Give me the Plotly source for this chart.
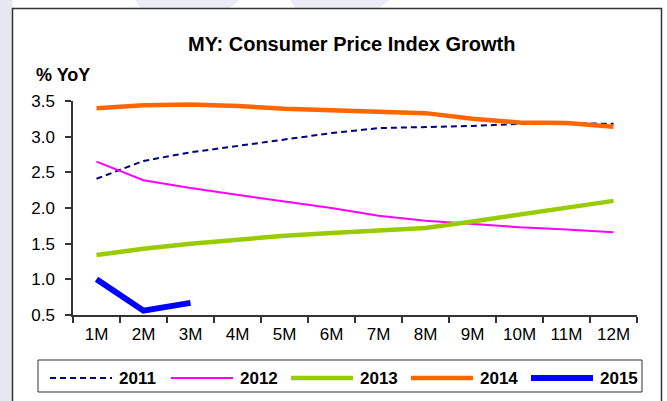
import plotly.graph_objects as go

# Monthly CPI growth, % YoY
months = ["1M", "2M", "3M", "4M", "5M", "6M", "7M", "8M", "9M", "10M", "11M", "12M"]
years = ["2011", "2012", "2013", "2014", "2015"]
cpi_2011 = [2.41, 2.66, 2.78, 2.87, 2.95, 3.05, 3.12, 3.13, 3.15, 3.18, 3.19, 3.18]
cpi_2012 = [2.65, 2.39, 2.28, 2.18, 2.09, 2.00, 1.89, 1.82, 1.77, 1.73, 1.70, 1.66]
cpi_2013 = [1.34, 1.43, 1.50, 1.56, 1.61, 1.65, 1.69, 1.72, 1.81, 1.91, 2.00, 2.10]
cpi_2014 = [3.40, 3.44, 3.45, 3.43, 3.39, 3.37, 3.34, 3.33, 3.25, 3.20, 3.19, 3.14]
cpi_2015 = [1.00, 0.56, 0.67]
y_ticks = [0.5, 1.0, 1.5, 2.0, 2.5, 3.0, 3.5]

series = [cpi_2011, cpi_2012, cpi_2013, cpi_2014, cpi_2015]

# line styles per year
colors = ["#000080", "#ff00ff", "#99cc00", "#ff6600", "#0000ff"]
widths = [2, 2, 4.5, 4.5, 6]
dashes = ["6px,4px", "solid", "solid", "solid", "solid"]

W, H = 667, 401
PL, PR, PT, PB = 73, 637, 101, 315   # plot area in pixels


def xp(px):
    return (px - PL) / (PR - PL)


def yp(py):
    return (PB - py) / (PB - PT)


FONT = "Liberation Sans, Arial, sans-serif"

fig = go.Figure()
for name, vals, c, w, d in zip(years, series, colors, widths, dashes):
    fig.add_trace(go.Scatter(
        x=months[:len(vals)], y=vals, mode="lines", name=name,
        line=dict(color=c, width=w, dash=d), showlegend=False,
        hovertemplate="%{x}: %{y:.2f}<extra>" + name + "</extra>",
    ))

shapes = []
# page background strip and watermark
shapes.append(dict(type="rect", xref="paper", yref="paper", x0=xp(-5), x1=xp(12.5),
                   y0=yp(-5), y1=yp(410), fillcolor="#e7e7f3", line=dict(width=0), layer="below"))
for x_a, x_b in [(135, 240), (290, 390)]:
    path = (f"M {xp(x_a)} {yp(0)} L {xp(x_b)} {yp(0)} L {xp(x_b - 12)} {yp(9)} "
            f"L {xp(x_a + 6)} {yp(9)} Z")
    shapes.append(dict(type="path", xref="paper", yref="paper", path=path,
                       fillcolor="#ececf6", line=dict(width=0), layer="below"))
# outer frame
shapes.append(dict(type="rect", xref="paper", yref="paper", x0=xp(12.5), x1=xp(661.5),
                   y0=yp(410), y1=yp(8.5), line=dict(color="#333333", width=1.5)))
# legend box
shapes.append(dict(type="rect", xref="paper", yref="paper", x0=xp(38), x1=xp(642),
                   y0=yp(392), y1=yp(360), line=dict(color="#333333", width=1),
                   fillcolor="rgba(0,0,0,0)"))

annotations = []
legend_x = [50, 171, 291, 411, 531]   # left end of each legend line sample
sample_len = 62
leg_y = 378
for name, lx, c, w, d in zip(years, legend_x, colors, widths, dashes):
    shapes.append(dict(type="line", xref="paper", yref="paper",
                       x0=xp(lx), x1=xp(lx + sample_len), y0=yp(leg_y), y1=yp(leg_y),
                       line=dict(color=c, width=w, dash=d)))
    annotations.append(dict(xref="paper", yref="paper", x=xp(lx + sample_len + 5), y=yp(leg_y),
                            text="<b>" + name + "</b>", showarrow=False,
                            xanchor="left", yanchor="middle",
                            font=dict(family=FONT, size=17, color="#000000")))

annotations.append(dict(xref="paper", yref="paper", x=xp(351), y=yp(44),
                        text="<b>MY: Consumer Price Index Growth</b>", showarrow=False,
                        xanchor="center", yanchor="middle",
                        font=dict(family=FONT, size=20, color="#000000")))
annotations.append(dict(xref="paper", yref="paper", x=xp(34), y=yp(75),
                        text="<b>% YoY</b>", showarrow=False,
                        xanchor="left", yanchor="middle",
                        font=dict(family=FONT, size=18, color="#000000")))

fig.update_layout(
    width=W, height=H,
    margin=dict(l=PL, r=W - PR, t=PT, b=H - PB, pad=0),
    paper_bgcolor="#ffffff", plot_bgcolor="#ffffff",
    font=dict(family=FONT, size=17, color="#000000"),
    shapes=shapes, annotations=annotations,
    hovermode="closest",
)
fig.update_xaxes(
    type="category", categoryorder="array", categoryarray=months,
    range=[-0.5, len(months) - 0.5],
    showline=True, linecolor="#333333", linewidth=1.5,
    ticks="outside", tickson="boundaries", ticklen=6, tickcolor="#333333", tickwidth=1.5,
    showgrid=False, zeroline=False, ticklabelstandoff=3,
    tickfont=dict(family=FONT, size=17, color="#000000"),
)
fig.update_yaxes(
    range=[0.5, 3.5], tickvals=y_ticks, tickformat=".1f",
    showline=True, linecolor="#333333", linewidth=1.5,
    ticks="outside", ticklen=6, tickcolor="#333333", tickwidth=1.5,
    showgrid=False, zeroline=False, ticklabelstandoff=7,
    tickfont=dict(family=FONT, size=17, color="#000000"),
)

fig.write_html("out.html")
